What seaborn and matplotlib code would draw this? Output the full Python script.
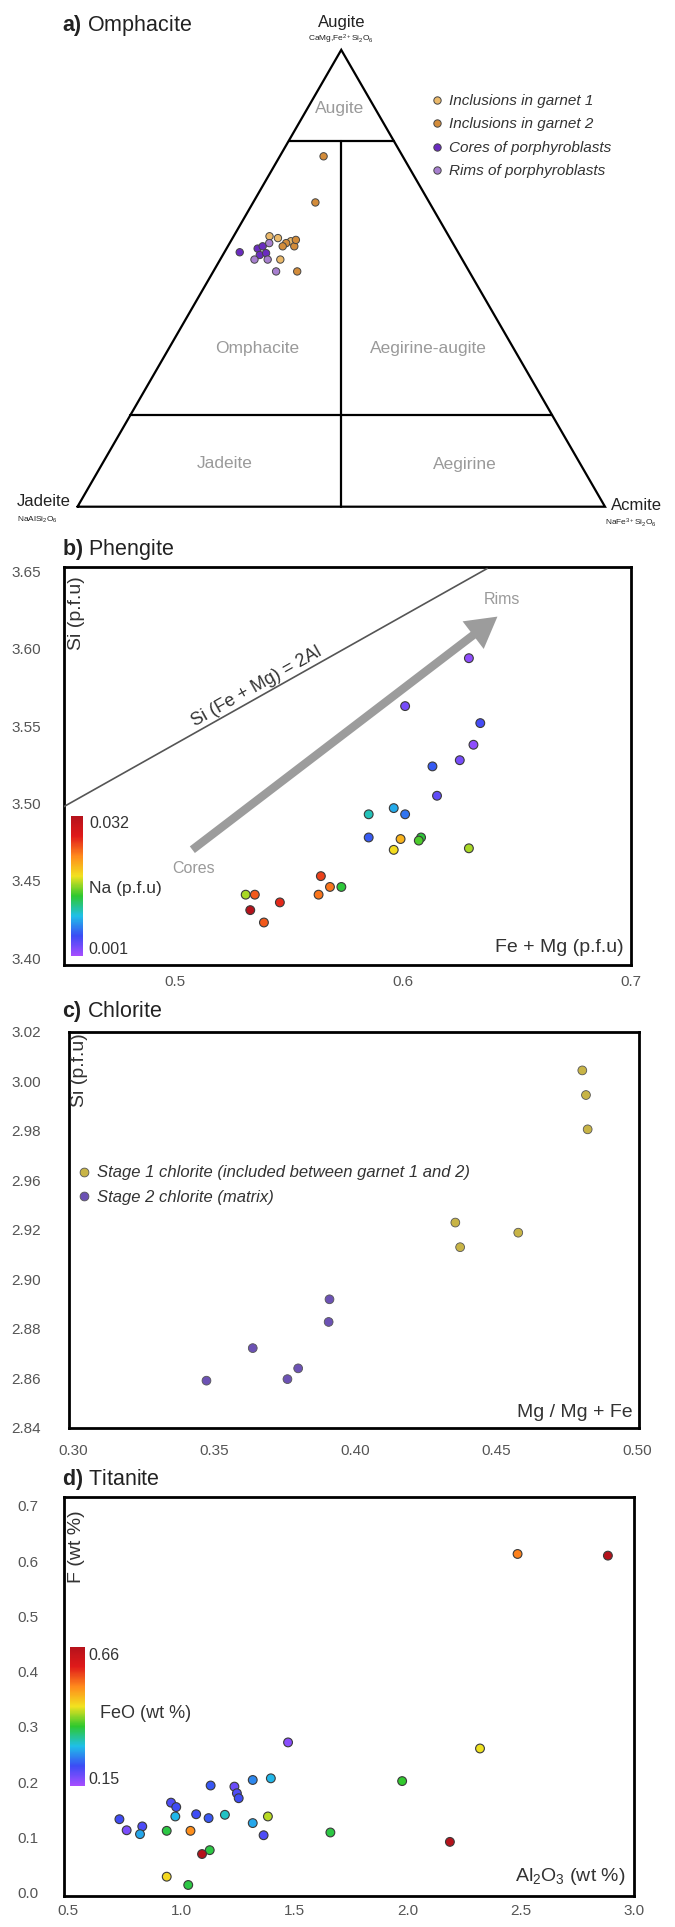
import numpy as np
import pandas as pd
import matplotlib
matplotlib.use("Agg")
import matplotlib.pyplot as plt
import seaborn as sns
from matplotlib.colors import LinearSegmentedColormap, Normalize
from matplotlib.cm import ScalarMappable

# ---------------- data ----------------
# a) Omphacite: ternary fractions (Quad, Jd, Ae)
omph_group = (["Inclusions in garnet 1"] * 4 + ["Inclusions in garnet 2"] * 7 +
              ["Cores of porphyroblasts"] * 5 + ["Rims of porphyroblasts"] * 4)
omph_quad = [0.592, 0.588, 0.581, 0.541,
             0.767, 0.666, 0.577, 0.570, 0.570, 0.584, 0.515,
             0.565, 0.570, 0.551, 0.555, 0.557,
             0.541, 0.541, 0.577, 0.515]
omph_ae = [0.068, 0.086, 0.114, 0.114,
           0.083, 0.118, 0.107, 0.126, 0.104, 0.122, 0.159,
           0.059, 0.066, 0.070, 0.080, 0.029,
           0.065, 0.090, 0.075, 0.119]
omph_groups_order = ["Inclusions in garnet 1", "Inclusions in garnet 2",
                     "Cores of porphyroblasts", "Rims of porphyroblasts"]
omph_colors = ["#ebb96a", "#d38c3a", "#6a2bc0", "#a77fcf"]
quad_bounds = [0.2, 0.8]

# b) Phengite
phg_femg = [0.629, 0.601, 0.634, 0.631, 0.625, 0.613, 0.615, 0.585, 0.596, 0.601,
            0.585, 0.599, 0.608, 0.607, 0.596, 0.629, 0.564, 0.568, 0.573, 0.563,
            0.531, 0.535, 0.546, 0.533, 0.539]
phg_si = [3.594, 3.563, 3.552, 3.538, 3.528, 3.524, 3.505, 3.493, 3.497, 3.493,
          3.478, 3.477, 3.478, 3.476, 3.470, 3.471, 3.453, 3.446, 3.446, 3.441,
          3.441, 3.441, 3.436, 3.431, 3.423]
phg_na = [0.002, 0.003, 0.005, 0.002, 0.003, 0.006, 0.004, 0.011, 0.009, 0.007,
          0.006, 0.021, 0.014, 0.015, 0.019, 0.017, 0.026, 0.024, 0.014, 0.024,
          0.017, 0.025, 0.027, 0.032, 0.025]
na_range = [0.001, 0.032]
si_line_x = [0.45, 0.637]
si_line_y = [3.497, 3.652]
arrow_x = [0.5066, 0.6425]
arrow_y = [3.469, 3.622]

# c) Chlorite
chl_stage = ["Stage 1 chlorite (included between garnet 1 and 2)"] * 6 + ["Stage 2 chlorite (matrix)"] * 6
chl_mg = [0.4806, 0.4819, 0.4825, 0.4356, 0.4373, 0.4579,
          0.3910, 0.3907, 0.3638, 0.3799, 0.3761, 0.3474]
chl_si = [3.0024, 2.9912, 2.9756, 2.9332, 2.9220, 2.9286,
          2.8983, 2.8880, 2.8761, 2.8669, 2.8620, 2.8613]
chl_colors = ["#c8b446", "#6c52b4"]
chl_ytick_labels = ["2.84", "2.86", "2.88", "2.90", "2.92", "2.96", "2.98", "3.00", "3.02"]

# d) Titanite
tit_al = [2.487, 2.886, 1.473, 2.321, 1.977, 1.397, 1.317, 1.131, 1.236, 1.247,
          1.255, 0.956, 0.979, 0.975, 1.067, 1.122, 1.194, 1.384, 1.317, 0.728,
          0.760, 0.829, 0.819, 0.937, 1.042, 1.365, 1.660, 2.188, 1.127, 1.093,
          0.937, 1.032]
tit_f = [0.613, 0.610, 0.272, 0.261, 0.202, 0.207, 0.204, 0.194, 0.192, 0.180,
         0.171, 0.163, 0.155, 0.138, 0.142, 0.135, 0.141, 0.138, 0.126, 0.133,
         0.113, 0.120, 0.106, 0.112, 0.112, 0.104, 0.109, 0.092, 0.077, 0.070,
         0.029, 0.014]
tit_feo = [0.52, 0.66, 0.17, 0.44, 0.37, 0.29, 0.26, 0.23, 0.19, 0.21,
           0.22, 0.21, 0.22, 0.29, 0.22, 0.23, 0.31, 0.42, 0.28, 0.22,
           0.18, 0.21, 0.28, 0.36, 0.51, 0.21, 0.36, 0.66, 0.36, 0.66,
           0.45, 0.36]
feo_range = [0.15, 0.66]

rainbow = ["#a64dff", "#3b4cf5", "#1fc0e8", "#2ec82e", "#f2e21f", "#ff8a1c", "#e01a1a", "#b5121b"]

# ---------------- style ----------------
sns.set_style("white")
plt.rcParams["font.family"] = ["Liberation Sans", "DejaVu Sans"]
plt.rcParams["mathtext.fontset"] = "custom"
plt.rcParams["mathtext.rm"] = "Liberation Sans"
plt.rcParams["mathtext.it"] = "Liberation Sans:italic"
plt.rcParams["mathtext.bf"] = "Liberation Sans:bold"

W, H = 675, 1927
fig = plt.figure(figsize=(W / 100, H / 100), dpi=100)
cmap = LinearSegmentedColormap.from_list("rb", rainbow)

def rect(x0, y0, x1, y1):
    return [x0 / W, 1 - y1 / H, (x1 - x0) / W, (y1 - y0) / H]

def ftext(px, py, s, **kw):
    fig.text(px / W, 1 - py / H, s, **kw)

TICK = "#555555"
LAB = "#333333"

def style_box(ax):
    for sp in ax.spines.values():
        sp.set_visible(True)
        sp.set_color("black")
        sp.set_linewidth(2.0)
    ax.tick_params(length=0, labelsize=11, labelcolor=TICK)
    ax.set_xlabel("")
    ax.set_ylabel("")

# ---------------- a) ternary ----------------
axa = fig.add_axes(rect(0, 0, W, 560))
axa.set_xlim(-77.5 / 527.5, 597.5 / 527.5)
axa.set_ylim(-(560 - 506.7) / 527.5, 506.7 / 527.5)
axa.axis("off")
h3 = np.sqrt(3) / 2

def tern(q, ae):
    q = np.asarray(q, float); ae = np.asarray(ae, float)
    return ae + q / 2, q * h3

tx, ty = tern([0, 1, 0, 0], [0, 0, 1, 0])
axa.plot(tx, ty, color="black", lw=1.6, solid_joinstyle="miter")
for qb in quad_bounds:
    lx, ly = tern([qb, qb], [0, 1 - qb])
    axa.plot(lx, ly, color="black", lw=1.6)
vx, vy = tern([max(quad_bounds), 0], [(1 - max(quad_bounds)) / 2, 0.5])
axa.plot(vx, vy, color="black", lw=1.6)

ox, oy = tern(omph_quad, omph_ae)
dfa = pd.DataFrame({"x": ox, "y": oy, "group": omph_group})
sns.scatterplot(data=dfa, x="x", y="y", hue="group", hue_order=omph_groups_order,
                palette=omph_colors, s=28, edgecolor="#444444", linewidth=0.7,
                ax=axa, zorder=5)
axa.set_xlabel(""); axa.set_ylabel("")
leg = axa.legend(loc="upper left", bbox_to_anchor=(431 / W, 1 - 94 / H),
                 bbox_transform=fig.transFigure, frameon=False, borderaxespad=0,
                 borderpad=0, handlelength=0.8, handletextpad=0.4, labelspacing=0.62,
                 prop={"size": 11, "style": "italic"})
for t in leg.get_texts():
    t.set_color(LAB)

axa.text(0.5, (506.7 - 22) / 527.5, "Augite", ha="center", va="center", fontsize=12, color="#222222")
axa.text(0.5, (506.7 - 39) / 527.5, r"CaMg,Fe$^{2+}$Si$_2$O$_6$", ha="center", va="center", fontsize=6, color="#222222")
axa.text(-0.115, (506.7 - 502) / 527.5, "Jadeite", ha="left", va="center", fontsize=12, color="#222222")
axa.text(-0.115, (506.7 - 520) / 527.5, r"NaAlSi$_2$O$_6$", ha="left", va="center", fontsize=6, color="#222222")
axa.text(1.012, (506.7 - 505) / 527.5, "Acmite", ha="left", va="center", fontsize=12, color="#222222")
axa.text(1.0, (506.7 - 523) / 527.5, r"NaFe$^{3+}$Si$_2$O$_6$", ha="left", va="center", fontsize=6, color="#222222")
GR = "#9a9a9a"
for (px, py, s) in [(340, 108, "Augite"), (257, 349, "Omphacite"), (428, 349, "Aegirine-augite"),
                    (225, 464, "Jadeite"), (465, 464, "Aegirine")]:
    axa.text((px - 77.5) / 527.5, (506.7 - py) / 527.5, s, ha="center", va="center", fontsize=12.5, color=GR)
ftext(62, 25, r"$\bf{a)}$ Omphacite", fontsize=15.5, va="center", ha="left", color="#222222")

# ---------------- b) Phengite ----------------
axb = fig.add_axes(rect(63.5, 567, 630.6, 965))
dfb = pd.DataFrame({"femg": phg_femg, "si": phg_si, "na": phg_na})
sns.scatterplot(data=dfb, x="femg", y="si", hue="na", palette=cmap, hue_norm=tuple(na_range),
                s=40, edgecolor="#3a3a3a", linewidth=0.8, legend=False, ax=axb, zorder=5)
axb.set_xlim(0.451, 0.698)
axb.set_ylim(3.3955, 3.653)
axb.set_xticks([0.5, 0.6, 0.7]); axb.set_xticklabels(["0.5", "0.6", "0.7"])
axb.set_yticks([3.40, 3.45, 3.50, 3.55, 3.60, 3.65])
axb.set_yticklabels(["3.40", "3.45", "3.50", "3.55", "3.60", "3.65"])
style_box(axb)
axb.tick_params(axis="y", pad=16)
axb.tick_params(axis="x", pad=7)
axb.plot(si_line_x, si_line_y, color="#555555", lw=1.2, zorder=3)
axb.annotate("", xy=(arrow_x[1], arrow_y[1]), xytext=(arrow_x[0], arrow_y[0]),
             arrowprops=dict(arrowstyle="simple,head_length=1.1,head_width=1.25,tail_width=0.3",
                             mutation_scale=20, color="#9c9c9c", lw=0), zorder=4)
fig.canvas.draw()
p1 = axb.transData.transform((si_line_x[0], si_line_y[0]))
p2 = axb.transData.transform((si_line_x[1], si_line_y[1]))
ang = np.degrees(np.arctan2(p2[1] - p1[1], p2[0] - p1[0]))
axb.text(0.5358, 3.5755, "Si (Fe + Mg) = 2Al", rotation=ang, rotation_mode="anchor",
         ha="center", va="center", fontsize=13, color=LAB)
axb.text(0.508, 3.458, "Cores", ha="center", va="center", fontsize=11.5, color=GR)
axb.text(0.6435, 3.632, "Rims", ha="center", va="center", fontsize=11.5, color=GR)
axb.text(0.023, 0.977, "Si (p.f.u)", transform=axb.transAxes, rotation=90, ha="center", va="top", fontsize=14, color=LAB)
axb.text(0.988, 0.043, "Fe + Mg (p.f.u)", transform=axb.transAxes, ha="right", va="center", fontsize=14, color=LAB)
caxb = fig.add_axes(rect(70.7, 816, 82.7, 956))
cbb = fig.colorbar(ScalarMappable(norm=Normalize(*na_range), cmap=cmap), cax=caxb)
cbb.outline.set_visible(False); cbb.set_ticks([])
ftext(89, 823, "0.032", fontsize=11.5, va="center", color=LAB)
ftext(89, 888, "Na (p.f.u)", fontsize=12.5, va="center", color=LAB)
ftext(88, 950, "0.001", fontsize=11.5, va="center", color=LAB)
ftext(62, 550, r"$\bf{b)}$ Phengite", fontsize=15.5, va="center", ha="left", color="#222222")

# ---------------- c) Chlorite ----------------
axc = fig.add_axes(rect(68.5, 1031.7, 639.3, 1427.5))
dfc = pd.DataFrame({"mg": chl_mg, "si": chl_si, "stage": chl_stage})
sns.scatterplot(data=dfc, x="mg", y="si", hue="stage", palette=chl_colors, s=40,
                edgecolor="#555555", linewidth=0.6, ax=axc, zorder=5)
axc.set_xlim(0.2985, 0.5008)
axc.set_ylim(2.84, 3.02)
axc.set_xticks([0.30, 0.35, 0.40, 0.45, 0.50])
axc.set_xticklabels(["0.30", "0.35", "0.40", "0.45", "0.50"])
axc.set_yticks(np.linspace(2.84, 3.02, len(chl_ytick_labels)))
axc.set_yticklabels(chl_ytick_labels)
style_box(axc)
axc.tick_params(axis="y", pad=20)
axc.tick_params(axis="x", pad=12)
legc = axc.legend(loc="upper left", bbox_to_anchor=(80 / W, 1 - 1165.5 / H),
                  bbox_transform=fig.transFigure, frameon=False, borderaxespad=0,
                  borderpad=0, handlelength=0.5, handletextpad=0.5, labelspacing=0.55,
                  prop={"size": 12, "style": "italic"})
for t in legc.get_texts():
    t.set_color(LAB)
axc.text(0.019, 0.995, "Si (p.f.u)", transform=axc.transAxes, rotation=90, ha="center", va="top", fontsize=14, color=LAB)
axc.text(0.989, 0.038, "Mg / Mg + Fe", transform=axc.transAxes, ha="right", va="center", fontsize=14, color=LAB)
ftext(62, 1011.7, r"$\bf{c)}$ Chlorite", fontsize=15.5, va="center", ha="left", color="#222222")

# ---------------- d) Titanite ----------------
axd = fig.add_axes(rect(63.5, 1496.5, 633.7, 1895.7))
dfd = pd.DataFrame({"al": tit_al, "f": tit_f, "feo": tit_feo})
sns.scatterplot(data=dfd, x="al", y="f", hue="feo", palette=cmap, hue_norm=tuple(feo_range),
                s=40, edgecolor="#3a3a3a", linewidth=0.8, legend=False, ax=axd, zorder=5)
axd.set_xlim(0.481, 2.994)
axd.set_ylim(-0.0054, 0.717)
axd.set_xticks([0.5, 1.0, 1.5, 2.0, 2.5, 3.0])
axd.set_xticklabels(["0.5", "1.0", "1.5", "2.0", "2.5", "3.0"])
axd.set_yticks([0.0, 0.1, 0.2, 0.3, 0.4, 0.5, 0.6, 0.7])
axd.set_yticklabels(["0.0", "0.1", "0.2", "0.3", "0.4", "0.5", "0.6", "0.7"])
style_box(axd)
axd.tick_params(axis="y", pad=18)
axd.tick_params(axis="x", pad=6)
axd.text(0.023, 0.965, "F (wt %)", transform=axd.transAxes, rotation=90, ha="center", va="top", fontsize=14, color=LAB)
axd.text(0.986, 0.047, r"Al$_2$O$_3$ (wt %)", transform=axd.transAxes, ha="right", va="center", fontsize=14, color=LAB)
caxd = fig.add_axes(rect(69.7, 1646.7, 84.8, 1786))
cbd = fig.colorbar(ScalarMappable(norm=Normalize(*feo_range), cmap=cmap), cax=caxd)
cbd.outline.set_visible(False); cbd.set_ticks([])
ftext(88, 1656, "0.66", fontsize=11.5, va="center", color=LAB)
ftext(100, 1714, "FeO (wt %)", fontsize=13, va="center", color=LAB)
ftext(88, 1780, "0.15", fontsize=11.5, va="center", color=LAB)
ftext(62, 1480, r"$\bf{d)}$ Titanite", fontsize=15.5, va="center", ha="left", color="#222222")

fig.savefig("out.png", dpi=100)
